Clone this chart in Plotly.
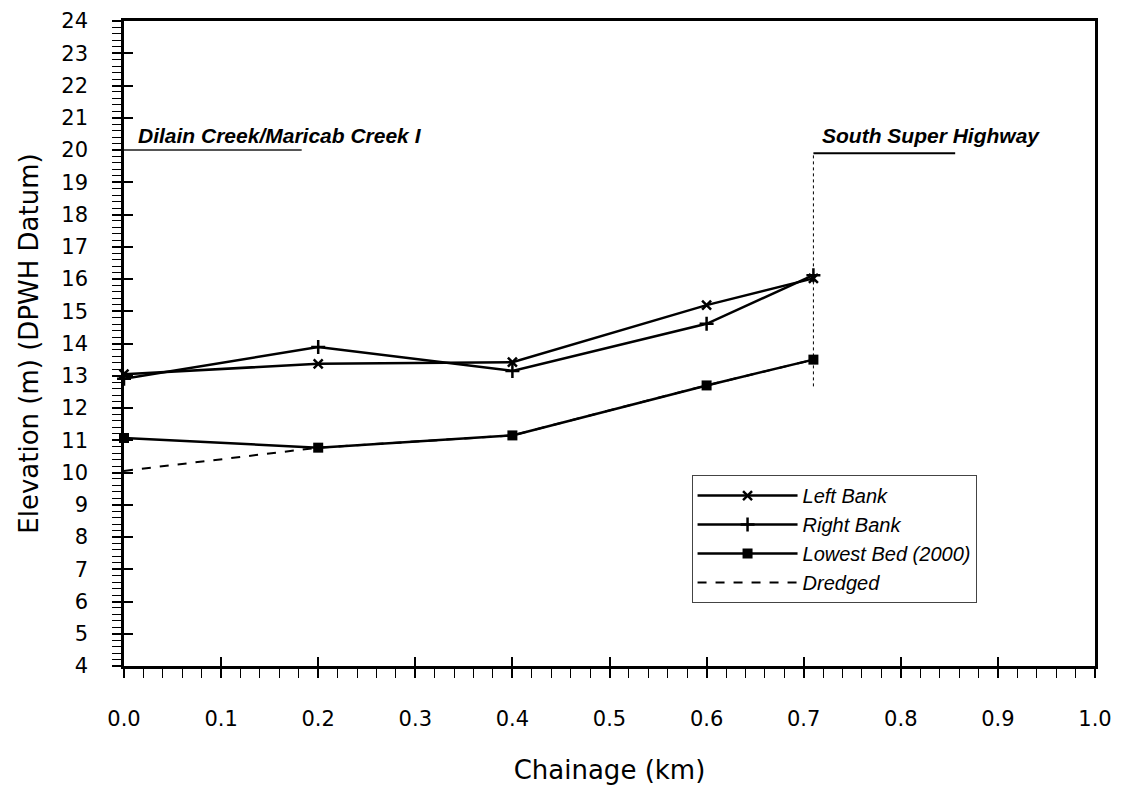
import plotly.graph_objects as go

# ---- data ----
chainage = [0.0, 0.2, 0.4, 0.6, 0.71]
left_bank = [13.05, 13.37, 13.42, 15.19, 16.02]
right_bank = [12.91, 13.89, 13.15, 14.61, 16.12]
lowest_bed = [11.07, 10.77, 11.15, 12.70, 13.50]
dredged = [10.05, 10.77, 11.15, 12.70, 13.50]

x_range = [0, 1]
y_range = [4, 24]

creek_label = "Dilain Creek/Maricab Creek I"
creek_x = [0.0, 0.183]
creek_y = 20.0
highway_label = "South Super Highway"
highway_x = [0.71, 0.856]
highway_y = [12.67, 19.9]

TICK_FONT = "DejaVu Sans"
LABEL_FONT = "Liberation Sans, Arial"

fig = go.Figure()

fig.add_trace(go.Scatter(
    x=chainage, y=left_bank, name="Left Bank", mode="lines+markers",
    line=dict(color="black", width=2.5),
    marker=dict(symbol="x-thin", size=9, line=dict(color="black", width=2.5)),
    cliponaxis=False))
fig.add_trace(go.Scatter(
    x=chainage, y=right_bank, name="Right Bank", mode="lines+markers",
    line=dict(color="black", width=2.5),
    marker=dict(symbol="cross-thin", size=10, line=dict(color="black", width=2.5)),
    cliponaxis=False))
fig.add_trace(go.Scatter(
    x=chainage, y=lowest_bed, name="Lowest Bed (2000)", mode="lines+markers",
    line=dict(color="black", width=2.5),
    marker=dict(symbol="square", size=10, color="black"),
    cliponaxis=False))
fig.add_trace(go.Scatter(
    x=chainage, y=dredged, name="Dredged", mode="lines",
    line=dict(color="black", width=2, dash="dash"),
    cliponaxis=False))

# annotation lines
fig.add_shape(type="line", xref="x", yref="y", x0=creek_x[0], x1=creek_x[1],
              y0=creek_y, y1=creek_y, line=dict(color="#555555", width=2))
fig.add_shape(type="line", xref="x", yref="y", x0=highway_x[0], x1=highway_x[1],
              y0=highway_y[1], y1=highway_y[1], line=dict(color="black", width=2))
fig.add_shape(type="line", xref="x", yref="y", x0=highway_x[0], x1=highway_x[0],
              y0=highway_y[0], y1=highway_y[1], line=dict(color="black", width=1, dash="dot"))

fig.add_annotation(x=0.012, y=creek_y, xref="x", yref="y", text=creek_label,
                   showarrow=False, xanchor="left", yanchor="bottom", yshift=1,
                   font=dict(family=LABEL_FONT, size=21, color="black", weight="bold", style="italic"))
fig.add_annotation(x=highway_x[0] + 0.007, y=highway_y[1], xref="x", yref="y", text=highway_label,
                   showarrow=False, xanchor="left", yanchor="bottom", yshift=4,
                   font=dict(family=LABEL_FONT, size=21, color="black", weight="bold", style="italic"))

common_x = dict(range=x_range, showgrid=False, zeroline=False, automargin=False)
common_y = dict(range=y_range, showgrid=False, zeroline=False, automargin=False)

fig.update_layout(
    width=1105, height=777,
    margin=dict(l=116, r=18, t=13, b=119),
    paper_bgcolor="white", plot_bgcolor="white",
    showlegend=True,
    legend=dict(
        x=0.5845, y=0.296, xanchor="left", yanchor="top",
        bgcolor="white", bordercolor="#444444", borderwidth=1,
        font=dict(family=LABEL_FONT, size=20, color="black", style="italic"),
        tracegroupgap=0, itemwidth=100,
    ),
    xaxis=dict(
        **common_x,
        tickmode="linear", tick0=0, dtick=0.1, tickformat=".1f",
        ticks="outside", ticklen=9, tickwidth=1.5, tickcolor="black",
        minor=dict(tickmode="linear", tick0=0, dtick=0.02, ticks="outside", ticklen=9, tickwidth=1, tickcolor="black"),
        showline=True, linecolor="black", linewidth=2.5, mirror=True,
        tickfont=dict(family=TICK_FONT, size=21, color="black"),
        ticklabelstandoff=23, ticklabeloverflow="allow",
        title=dict(text="Chainage (km)", font=dict(family=TICK_FONT, size=26, color="black"), standoff=37),
    ),
    yaxis=dict(
        **common_y,
        tickmode="linear", tick0=4, dtick=1,
        ticks="outside", ticklen=9, tickwidth=1.5, tickcolor="black",
        minor=dict(tickmode="linear", tick0=4, dtick=0.2, ticks="outside", ticklen=9, tickwidth=1, tickcolor="black"),
        showline=True, linecolor="black", linewidth=2.5, mirror=True,
        tickfont=dict(family=TICK_FONT, size=21, color="black"),
        ticklabelstandoff=20, ticklabeloverflow="allow",
        title=dict(text="Elevation (m) (DPWH Datum)", font=dict(family=TICK_FONT, size=26, color="black"), standoff=16),
    ),
    xaxis2=dict(**common_x, overlaying="x", matches="x", showticklabels=False,
                tickmode="linear", tick0=0, dtick=0.1, ticks="inside", ticklen=9,
                tickwidth=1.5, tickcolor="black", showline=False),
    yaxis2=dict(**common_y, overlaying="y", matches="y", showticklabels=False,
                tickmode="linear", tick0=4, dtick=1, ticks="inside", ticklen=9,
                tickwidth=1.5, tickcolor="black", showline=False),
)

# invisible trace to activate the overlay axes for inner tick halves
fig.add_trace(go.Scatter(x=[None], y=[None], xaxis="x2", yaxis="y2",
                         showlegend=False, hoverinfo="skip"))

fig.write_html("out.html")
